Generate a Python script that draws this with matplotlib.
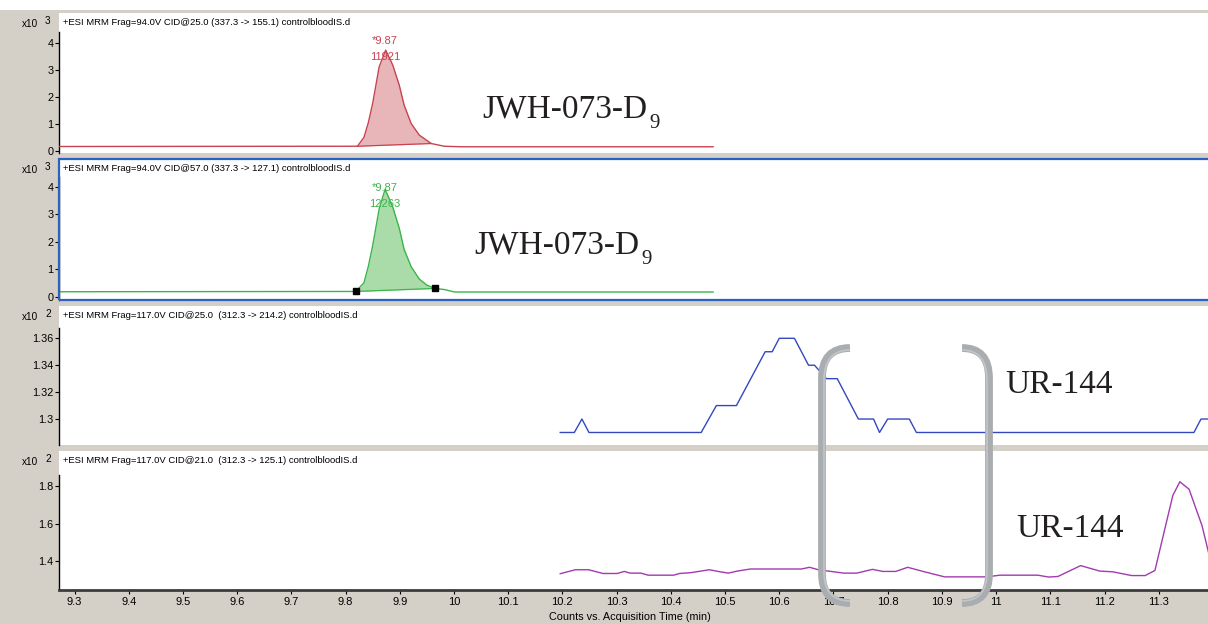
import matplotlib
matplotlib.use('Agg')
import matplotlib.pyplot as plt
import numpy as np
from matplotlib.path import Path
from matplotlib.patches import PathPatch, Rectangle

plt.rcParams['font.family'] = ['Liberation Sans', 'DejaVu Sans']

W, H = 1208, 624

# --- data (time in min, counts in units of the x10^n axis) ---
# JWH-073-D9 quantifier, 337.3 -> 155.1
red_t = [9.27, 9.822, 9.834, 9.842, 9.850, 9.862, 9.874, 9.887, 9.899, 9.908,
         9.921, 9.936, 9.958, 9.982, 10.013, 10.478]
red_v = [0.17, 0.18, 0.51, 1.05, 1.76, 3.11, 3.73, 3.18, 2.44, 1.70,
         1.02, 0.59, 0.28, 0.18, 0.16, 0.16]
red_int = [(9.822, 0.18), (9.958, 0.28)]

# JWH-073-D9 qualifier, 337.3 -> 127.1
green_t = [9.27, 9.819, 9.834, 9.842, 9.850, 9.862, 9.873, 9.887, 9.899, 9.908,
           9.921, 9.936, 9.950, 9.965, 9.982, 10.001, 10.478]
green_v = [0.18, 0.19, 0.51, 1.10, 1.85, 3.19, 3.90, 3.26, 2.49, 1.72,
           1.09, 0.64, 0.42, 0.30, 0.26, 0.17, 0.17]
green_int = [(9.819, 0.19), (9.965, 0.30)]

# UR-144, 312.3 -> 214.2
blue_t = [10.196, 10.222, 10.236, 10.249, 10.456, 10.484, 10.521, 10.574, 10.587,
          10.600, 10.628, 10.654, 10.665, 10.687, 10.707, 10.746, 10.774, 10.785,
          10.800, 10.840, 10.853, 11.365, 11.378, 11.40]
blue_v = [1.29, 1.29, 1.30, 1.29, 1.29, 1.31, 1.31, 1.35, 1.35,
          1.36, 1.36, 1.34, 1.34, 1.33, 1.33, 1.30, 1.30, 1.29,
          1.30, 1.30, 1.29, 1.29, 1.30, 1.30]

# UR-144, 312.3 -> 125.1
mag_t = [10.196, 10.224, 10.248, 10.275, 10.301, 10.314, 10.325, 10.345, 10.358,
         10.405, 10.416, 10.436, 10.471, 10.491, 10.506, 10.523, 10.547, 10.641,
         10.656, 10.672, 10.719, 10.743, 10.772, 10.791, 10.815, 10.837, 10.868,
         10.905, 10.983, 11.007, 11.077, 11.097, 11.114, 11.156, 11.191, 11.215,
         11.250, 11.275, 11.293, 11.326, 11.339, 11.356, 11.380, 11.40]
mag_v = [1.334, 1.355, 1.355, 1.335, 1.335, 1.346, 1.337, 1.337, 1.326,
         1.326, 1.335, 1.339, 1.355, 1.344, 1.337, 1.348, 1.359, 1.359,
         1.368, 1.355, 1.337, 1.337, 1.357, 1.346, 1.346, 1.368, 1.344,
         1.317, 1.317, 1.326, 1.326, 1.316, 1.319, 1.377, 1.348, 1.344,
         1.324, 1.324, 1.351, 1.751, 1.824, 1.784, 1.589, 1.35]

x_ticks = [9.3, 9.4, 9.5, 9.6, 9.7, 9.8, 9.9, 10.0, 10.1, 10.2, 10.3, 10.4, 10.5,
           10.6, 10.7, 10.8, 10.9, 11.0, 11.1, 11.2, 11.3]
x_labels = ['9.3', '9.4', '9.5', '9.6', '9.7', '9.8', '9.9', '10', '10.1', '10.2',
            '10.3', '10.4', '10.5', '10.6', '10.7', '10.8', '10.9', '11', '11.1',
            '11.2', '11.3']

headers = ['+ESI MRM Frag=94.0V CID@25.0 (337.3 -> 155.1) controlbloodIS.d',
           '+ESI MRM Frag=94.0V CID@57.0 (337.3 -> 127.1) controlbloodIS.d',
           '+ESI MRM Frag=117.0V CID@25.0  (312.3 -> 214.2) controlbloodIS.d',
           '+ESI MRM Frag=117.0V CID@21.0  (312.3 -> 125.1) controlbloodIS.d']
exponents = ['3', '3', '2', '2']

GRAY_BG = '#d4d0c8'
XLIM = (9.2714, 11.3946)


def px_axes(left, top, right, bottom):
    return fig.add_axes([left / W, 1 - bottom / H, (right - left) / W, (bottom - top) / H])


def ftext(x, y, s, **kw):
    return fig.text(x / W, 1 - y / H, s, **kw)


fig = plt.figure(figsize=(W / 100, H / 100), dpi=100, facecolor=GRAY_BG)

# white strip along the very top
fig.patches.append(Rectangle((0, 1 - 10 / H), 1, 10 / H, transform=fig.transFigure,
                             facecolor='white', edgecolor='none', zorder=0))

boxes = [(59, 13, 1210, 153), (59, 159, 1210, 300), (59, 306, 1210, 445), (59, 451, 1210, 590)]
ylims = [(-0.07, 5.1), (-0.12, 5.0), (1.2807, 1.384), (1.247, 1.988)]
yticks = [[0, 1, 2, 3, 4], [0, 1, 2, 3, 4], [1.30, 1.32, 1.34, 1.36], [1.4, 1.6, 1.8]]
ylabels = [['0', '1', '2', '3', '4'], ['0', '1', '2', '3', '4'],
           ['1.3', '1.32', '1.34', '1.36'], ['1.4', '1.6', '1.8']]
spine_top = [4.4, 4.35, 1.368, 1.86]

axes = []
for i, box in enumerate(boxes):
    ax = px_axes(*box)
    ax.set_facecolor('white')
    ax.set_xlim(*XLIM)
    ax.set_ylim(*ylims[i])
    for s in ['top', 'right', 'bottom']:
        ax.spines[s].set_visible(False)
    ax.spines['left'].set_bounds(ylims[i][0], spine_top[i])
    ax.spines['left'].set_linewidth(1.0)
    ax.set_yticks(yticks[i])
    ax.set_yticklabels(ylabels[i])
    ax.tick_params(axis='y', direction='out', length=3, width=0.8, pad=1, labelsize=7.8)
    ax.set_xticks([])
    ax.text(0.0035, 0.965, headers[i], transform=ax.transAxes, fontsize=6.8,
            va='top', ha='left')
    axes.append(ax)

# exponent labels in the gray margin
for i, box in enumerate(boxes):
    ftext(22, box[1] + 11, 'x10', fontsize=7.2, va='center', ha='left')
    ftext(45, box[1] + 8, exponents[i], fontsize=7.2, va='center', ha='left')

# panel 2 is the selected one: blue frame
axes[1].add_patch(Rectangle((0, 0), 1, 1, transform=axes[1].transAxes, fill=False,
                            edgecolor='#2a62c4', linewidth=1.6, clip_on=False, zorder=5))


def draw_peak(ax, t, v, integ, line_c, fill_c, markers=False):
    t = np.array(t)
    v = np.array(v)
    ax.plot(t, v, color=line_c, lw=1.0, zorder=3)
    (t0, b0), (t1, b1) = integ
    seg_t = np.concatenate([[t0], t[(t > t0) & (t < t1)], [t1]])
    seg_v = np.interp(seg_t, t, v)
    base = np.interp(seg_t, [t0, t1], [b0, b1])
    ax.fill_between(seg_t, base, seg_v, color=fill_c, lw=0, zorder=2)
    ax.plot([t0, t1], [b0, b1], color=line_c, lw=0.9, zorder=3)
    if markers:
        ax.plot([t0, t1], [b0, b1], 's', color='black', ms=4, zorder=4)


draw_peak(axes[0], red_t, red_v, red_int, '#c8424f', '#e8b6b8')
draw_peak(axes[1], green_t, green_v, green_int, '#3cb44b', '#a9dca9', markers=True)
axes[2].plot(blue_t, blue_v, color='#3248c0', lw=1.0)
axes[3].plot(mag_t, mag_v, color='#a23ab0', lw=1.0)

# peak annotations
ftext(385, 41, '*9.87', fontsize=8, color='#c8424f', ha='center', va='center')
ftext(385, 57, '11921', fontsize=8, color='#c8424f', ha='center', va='center')
ftext(385, 188, '*9.87', fontsize=8, color='#3cb44b', ha='center', va='center')
ftext(385, 204, '12263', fontsize=8, color='#3cb44b', ha='center', va='center')

# bottom x axis
axb = axes[3]
axb.spines['bottom'].set_visible(True)
axb.spines['bottom'].set_color('#3c3c3c')
axb.spines['bottom'].set_linewidth(2.0)
axb.set_xticks(x_ticks)
axb.set_xticklabels(x_labels)
axb.tick_params(axis='x', direction='out', length=3, width=0.8, pad=2, labelsize=8)
ftext(549, 617, 'Counts vs. Acquisition Time (min)', fontsize=7.8, ha='left', va='center')

# compound labels
serif = ['Liberation Serif', 'DejaVu Serif']
lab_c = '#231f20'
ftext(482, 117, 'JWH-073-D', fontsize=24, family=serif, color=lab_c, va='baseline')
ftext(649, 128, '9', fontsize=15, family=serif, color=lab_c, va='baseline')
ftext(474, 253, 'JWH-073-D', fontsize=24, family=serif, color=lab_c, va='baseline')
ftext(641, 264, '9', fontsize=15, family=serif, color=lab_c, va='baseline')
ftext(1005, 393, 'UR-144', fontsize=24, family=serif, color=lab_c, va='baseline')
ftext(1016, 537, 'UR-144', fontsize=24, family=serif, color=lab_c, va='baseline')

# gray brackets drawn over the lower two traces
ov = fig.add_axes([0, 0, 1, 1], zorder=10)
ov.set_xlim(0, W)
ov.set_ylim(H, 0)
ov.axis('off')
ov.patch.set_alpha(0)
codes = [Path.MOVETO, Path.CURVE3, Path.CURVE3, Path.LINETO, Path.CURVE3, Path.CURVE3]
for x_end, x_bar in [(850, 822), (962, 989)]:
    verts = [(x_end, 348), (x_bar, 348), (x_bar, 378), (x_bar, 574), (x_bar, 603), (x_end, 603)]
    ov.add_patch(PathPatch(Path(verts, codes), fill=False, edgecolor='#a9adaf',
                           lw=5.6, capstyle='butt'))
    inner = x_bar + (2 if x_bar < 900 else -2)
    verts2 = [(x_end, 350), (inner, 350), (inner, 380), (inner, 572), (inner, 601), (x_end, 601)]
    ov.add_patch(PathPatch(Path(verts2, codes), fill=False, edgecolor='#c3c6c8',
                           lw=1.2, capstyle='butt'))

fig.savefig('out.png', dpi=100, facecolor=GRAY_BG)
